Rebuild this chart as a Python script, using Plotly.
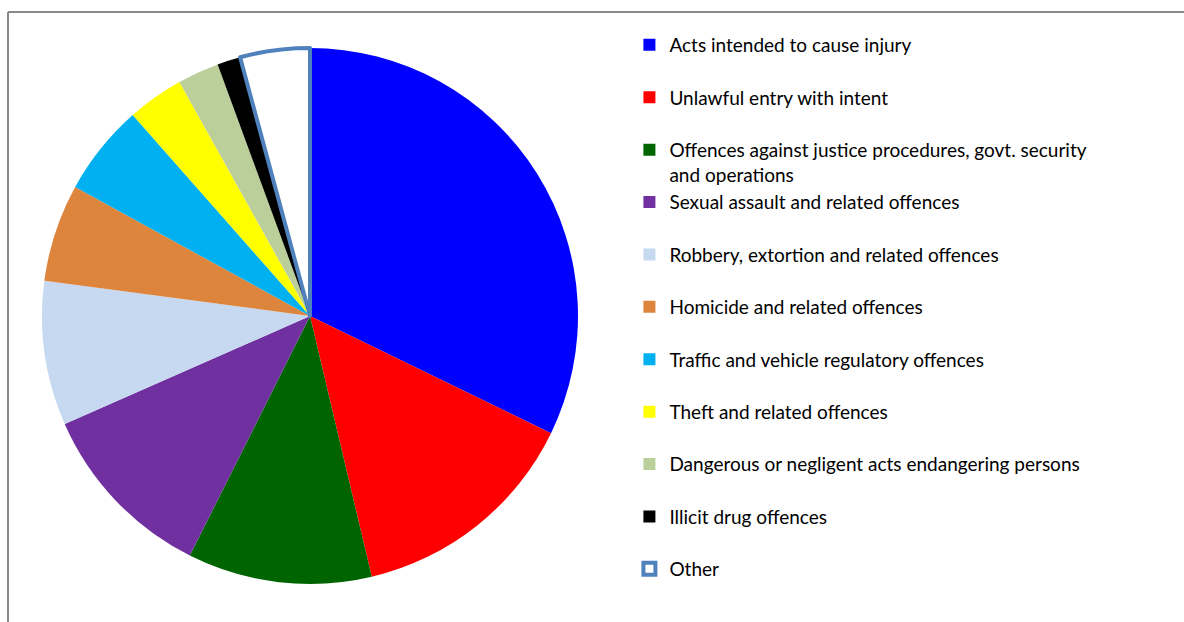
import plotly.graph_objects as go

# Offence categories and their share of the total (percent)
categories = [
    "Acts intended to cause injury",
    "Unlawful entry with intent",
    "Offences against justice procedures, govt. security<br>and operations",
    "Sexual assault and related offences",
    "Robbery, extortion and related offences",
    "Homicide and related offences",
    "Traffic and vehicle regulatory offences",
    "Theft and related offences",
    "Dangerous or negligent acts endangering persons",
    "Illicit drug offences",
    "Other",
]
shares = [32.2, 14.1, 11.1, 11.0, 8.7, 5.9, 5.5, 3.4, 2.5, 1.4, 4.2]

slice_colors = [
    "#0000FF", "#FF0000", "#006400", "#7030A0", "#C6D9F1", "#DE853D",
    "#00B0F0", "#FFFF00", "#BBCF9A", "#000000", "#FFFFFF",
]
edge_colors = ["rgba(0,0,0,0)"] * 10 + ["#4F81BD"]
edge_widths = [0] * 10 + [4]

# single-line labels get a blank second line so every legend entry has the same height
legend_labels = [c if "<br>" in c else c + "<br> " for c in categories]

fig = go.Figure(
    go.Pie(
        labels=legend_labels,
        values=shares,
        sort=False,
        direction="clockwise",
        rotation=0,
        textinfo="none",
        hoverinfo="label+percent",
        marker=dict(colors=slice_colors, line=dict(color=edge_colors, width=edge_widths)),
        domain=dict(x=[42 / 1184, 578 / 1184], y=[38 / 622, 574 / 622]),
    )
)

fig.update_layout(
    width=1184,
    height=622,
    margin=dict(l=0, r=0, t=0, b=0),
    paper_bgcolor="white",
    plot_bgcolor="white",
    font=dict(family="Lato, sans-serif", color="#000000"),
    legend=dict(
        x=0.5316,
        y=0.9582,
        xanchor="left",
        yanchor="top",
        valign="top",
        font=dict(size=19, family="Lato, sans-serif", color="#000000"),
        itemwidth=30,
        bgcolor="rgba(0,0,0,0)",
    ),
    shapes=[
        dict(type="line", xref="paper", yref="paper", x0=8 / 1184, x1=1.0,
             y0=1 - 12 / 622, y1=1 - 12 / 622, line=dict(color="#888888", width=2)),
        dict(type="line", xref="paper", yref="paper", x0=8 / 1184, x1=8 / 1184,
             y0=0, y1=1 - 12 / 622, line=dict(color="#888888", width=2)),
    ],
)

fig.write_html("out.html")
